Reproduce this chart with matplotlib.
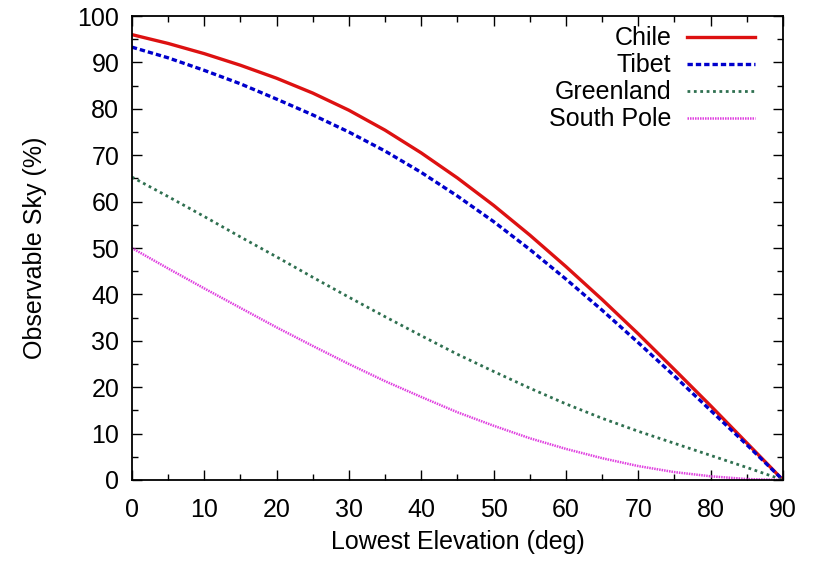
import matplotlib
matplotlib.use("Agg")
import matplotlib.pyplot as plt
from matplotlib.ticker import MultipleLocator

plt.rcParams["font.family"] = ["Liberation Sans", "DejaVu Sans"]

elevation = [0, 5, 10, 15, 20, 25, 30, 35, 40, 45, 50, 55, 60, 65, 70, 75, 80, 85, 90]

chile = [96.0, 94.1, 91.9, 89.4, 86.6, 83.4, 79.7, 75.4, 70.5, 65.1,
         59.2, 52.8, 46.0, 38.9, 31.5, 23.8, 16.0, 8.0, 0.0]
tibet = [93.3, 91.0, 88.3, 85.4, 82.1, 78.7, 75.0, 70.9, 66.3, 61.2,
         55.7, 49.7, 43.3, 36.6, 29.6, 22.4, 15.0, 7.6, 0.0]
greenland = [65.3, 61.1, 56.8, 52.4, 48.1, 43.7, 39.4, 35.2, 31.1, 27.1,
             23.4, 19.8, 16.4, 13.3, 10.5, 7.9, 5.3, 2.7, 0.0]
south_pole = [50.0, 45.6, 41.3, 37.1, 32.9, 28.9, 25.0, 21.3, 17.9, 14.6,
              11.7, 9.0, 6.7, 4.7, 3.0, 1.7, 0.8, 0.2, 0.0]


def main():
    fig = plt.figure(figsize=(8.19, 5.61), dpi=100)
    ax = fig.add_axes([0.161, 0.1444, 0.795, 0.827])

    ax.plot(elevation, chile, color="#dd1111", lw=2.4, label="Chile")
    ax.plot(elevation, tibet, color="#0000cc", lw=2.4,
            dashes=(1.6, 0.9), label="Tibet")
    ax.plot(elevation, greenland, color="#2f7050", lw=2.0,
            dashes=(1.0, 1.3), label="Greenland")
    ax.plot(elevation, south_pole, color="#e040e0", lw=1.8,
            dashes=(0.6, 0.4), label="South Pole")

    ax.set_xlim(0, 90)
    ax.set_ylim(0, 100)
    ax.xaxis.set_major_locator(MultipleLocator(10))
    ax.xaxis.set_minor_locator(MultipleLocator(5))
    ax.yaxis.set_major_locator(MultipleLocator(10))
    ax.yaxis.set_minor_locator(MultipleLocator(5))
    ax.tick_params(which="both", direction="in", top=True, right=True,
                   labelsize=18, width=1)
    ax.tick_params(which="major", length=7)
    ax.tick_params(which="minor", length=4)
    ax.tick_params(axis="x", which="major", pad=13)
    ax.tick_params(axis="y", which="major", pad=9)
    for spine in ax.spines.values():
        spine.set_linewidth(1.3)

    ax.set_xlabel("Lowest Elevation (deg)", fontsize=18, labelpad=6)
    ax.set_ylabel("Observable Sky (%)", fontsize=18, labelpad=22)

    ax.legend(loc="upper right", bbox_to_anchor=(0.957, 0.978),
              frameon=False, markerfirst=False, fontsize=18,
              handlelength=2.7, handletextpad=0.65, labelspacing=0.12,
              borderpad=0, borderaxespad=0)

    fig.savefig("out.png", dpi=100)


if __name__ == "__main__":
    main()
